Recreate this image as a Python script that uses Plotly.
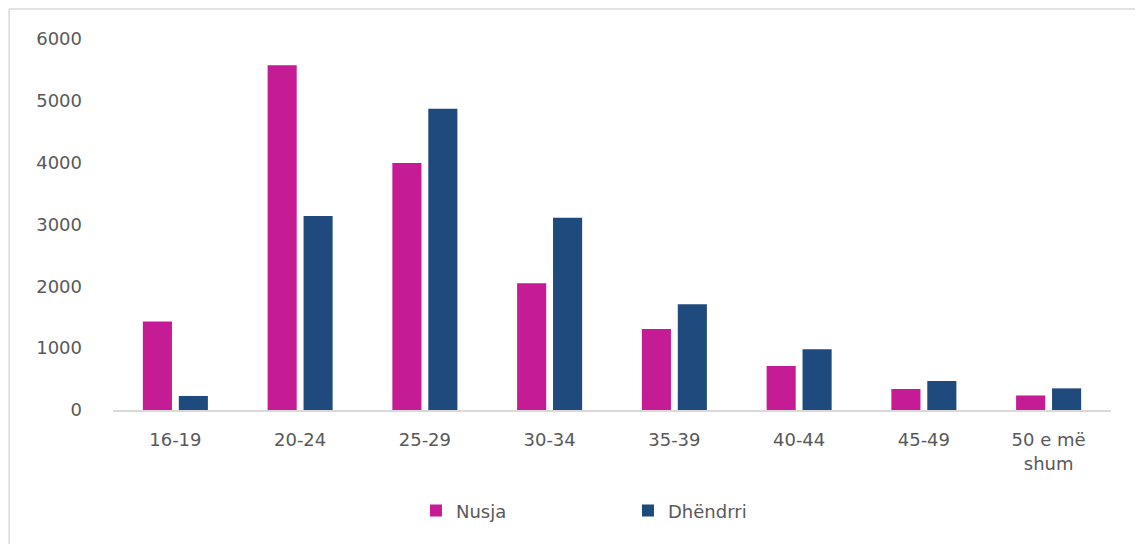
import plotly.graph_objects as go

# age groups and counts
ageGroups=["16-19","20-24","25-29","30-34","35-39","40-44","45-49","50 e më<br>shum"]
nusja=[1430,5575,3995,2050,1311,712,340,235]
dhendrri=[227,3139,4872,3108,1711,982,469,350]
yTicks=[0,1000,2000,3000,4000,5000,6000]

fontColor="#595959"
fnt="DejaVu Sans"

fig=go.Figure()
fig.add_trace(go.Bar(x=ageGroups,y=nusja,name="Nusja",marker=dict(color="#C51B95",line=dict(width=0))))
fig.add_trace(go.Bar(x=ageGroups,y=dhendrri,name="Dhëndrri",marker=dict(color="#1F4A7D",line=dict(width=0))))

fig.update_layout(
    width=1143,height=544,
    margin=dict(l=105,r=40,t=31,b=142),
    paper_bgcolor="white",plot_bgcolor="white",
    barmode="group",bargap=0.424,bargroupgap=0.19,
    font=dict(family=fnt,size=18,color=fontColor),
    showlegend=True,
    legend=dict(orientation="h",x=0.516,xanchor="center",y=-0.272,yanchor="middle",
                font=dict(size=18,color=fontColor),entrywidth=167,itemwidth=30),
)
fig.update_xaxes(showline=True,linecolor="#d9d9d9",linewidth=1.5,showgrid=False,
                 ticks="",ticklabelstandoff=13,tickfont=dict(size=18,color=fontColor))
fig.update_yaxes(range=[0,6000],tickvals=yTicks,showgrid=False,zeroline=False,showline=False,
                 ticks="",ticklabelstandoff=30,tickfont=dict(size=18,color=fontColor))

# outer chart border (runs off the right and bottom edges)
fig.add_shape(type="rect",xref="paper",yref="paper",x0=-0.104,x1=1.06,y0=-0.45,y1=1.081,
              line=dict(color="#d9d9d9",width=1.5),fillcolor="rgba(0,0,0,0)",layer="below")

fig.write_html("out.html")
